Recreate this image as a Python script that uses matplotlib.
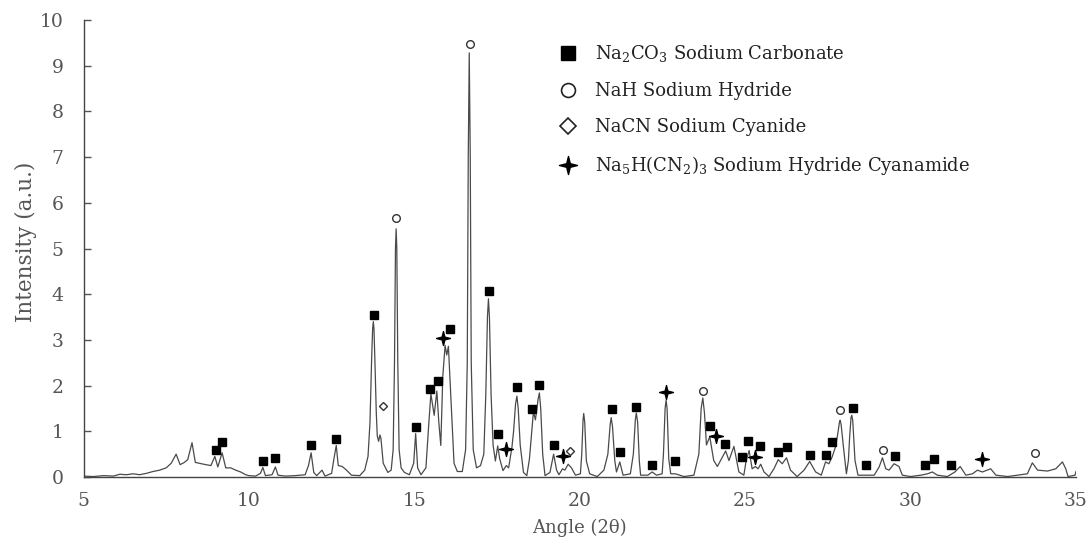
import matplotlib
matplotlib.use("Agg")
import matplotlib.pyplot as plt
from matplotlib.lines import Line2D
from matplotlib.path import Path

# ---- spectrum trace ----
angle = [
    5.0, 5.3, 5.6, 5.9, 6.1, 6.3, 6.5, 6.7, 6.9, 7.1, 7.3, 7.5, 7.65, 7.8, 7.92, 8.05, 8.15, 8.28, 8.38, 8.5,
    8.7, 8.85, 8.97, 9.06, 9.19, 9.3, 9.45, 9.6, 9.75, 9.9, 10.0, 10.2, 10.35, 10.42, 10.5, 10.7, 10.8, 10.88, 11.1, 11.4,
    11.7, 11.8, 11.88, 11.96, 12.05, 12.21, 12.3, 12.5, 12.57, 12.64, 12.7, 12.82, 12.95, 13.1, 13.35, 13.5,
    13.6, 13.66, 13.71, 13.74, 13.76, 13.78, 13.81, 13.85, 13.88, 13.92, 13.96, 13.99, 14.06, 14.2, 14.3, 14.36, 14.4, 14.43, 14.45, 14.47, 14.5, 14.54, 14.6,
    14.7, 14.85, 14.98, 15.04, 15.1, 15.2, 15.35, 15.44, 15.5, 15.6, 15.68, 15.74, 15.8, 15.86, 15.93, 15.98, 16.03, 16.1, 16.2, 16.3,
    16.45, 16.55, 16.6, 16.63, 16.66, 16.69, 16.72, 16.78, 16.88, 17.0, 17.1, 17.16, 17.21, 17.24, 17.27, 17.32, 17.38, 17.45, 17.52, 17.58,
    17.68, 17.78, 17.85, 17.95, 18.0, 18.06, 18.1, 18.14, 18.2, 18.3, 18.4, 18.48, 18.6, 18.66, 18.74, 18.78, 18.82, 18.88, 18.95,
    19.1, 19.21, 19.3, 19.37, 19.48, 19.55, 19.65, 19.75, 19.87, 20.02, 20.06, 20.1, 20.12, 20.15, 20.2, 20.3, 20.53, 20.73,
    20.85, 20.92, 20.95, 20.99, 21.06, 21.11, 21.21, 21.31, 21.53, 21.62, 21.68, 21.71, 21.75, 21.8, 21.84, 22.06, 22.19, 22.32, 22.49,
    22.53, 22.58, 22.61, 22.64, 22.69, 22.75, 22.89, 23.15, 23.45, 23.6, 23.67, 23.72, 23.77, 23.83, 23.93, 24.05, 24.16, 24.41, 24.51, 24.66,
    24.81, 24.96, 25.03, 25.12, 25.21, 25.31, 25.39, 25.47, 25.57, 25.72, 25.87, 26.0, 26.12, 26.25, 26.37, 26.57, 26.78, 26.95, 27.13, 27.3,
    27.43, 27.53, 27.63, 27.73, 27.8, 27.85, 27.87, 27.9, 27.97, 28.06, 28.12, 28.16, 28.2, 28.22, 28.25, 28.32, 28.41, 28.59, 28.9,
    29.05, 29.15, 29.25, 29.35, 29.5, 29.65, 29.75, 30.0, 30.31, 30.51, 30.66, 30.81, 31.11, 31.34, 31.5, 31.67, 31.87, 32.02, 32.17, 32.42,
    32.58, 32.93, 33.23, 33.53, 33.68, 33.84, 34.14, 34.39, 34.59, 34.69, 34.76, 34.97, 35.0,
]
intensity = [
    0.02, 0.01, 0.03, 0.02, 0.06, 0.05, 0.07, 0.05, 0.08, 0.12, 0.15, 0.2, 0.3, 0.5, 0.27, 0.32, 0.38, 0.75, 0.32, 0.3,
    0.27, 0.25, 0.45, 0.22, 0.53, 0.2, 0.2, 0.15, 0.11, 0.05, 0.03, 0.02, 0.08, 0.21, 0.03, 0.05, 0.22, 0.04, 0.02, 0.03,
    0.05, 0.25, 0.53, 0.1, 0.03, 0.15, 0.02, 0.08, 0.4, 0.69, 0.25, 0.23, 0.15, 0.04, 0.03, 0.15,
    0.45, 1.2, 2.6, 3.25, 3.4, 3.25, 2.5, 1.4, 0.9, 0.78, 0.92, 0.85, 0.3, 0.1, 0.15, 0.6, 2.5, 5.0, 5.43, 5.0, 2.5, 0.6, 0.2,
    0.1, 0.05, 0.3, 0.95, 0.2, 0.05, 0.2, 1.2, 1.82, 1.35, 1.88, 1.2, 0.69, 2.2, 2.88, 2.67, 2.86, 1.8, 0.3, 0.12,
    0.12, 0.6, 2.5, 7.0, 9.28, 7.0, 2.5, 0.6, 0.2, 0.25, 0.5, 1.8, 3.5, 3.9, 3.5, 1.8, 0.7, 0.35, 0.68, 0.4,
    0.14, 0.25, 0.2, 0.65, 1.0, 1.6, 1.77, 1.5, 0.7, 0.1, 0.03, 0.4, 1.43, 1.25, 1.7, 1.84, 1.5, 0.5, 0.03,
    0.1, 0.5, 0.15, 0.05, 0.18, 0.15, 0.28, 0.2, 0.04, 0.07, 0.5, 1.25, 1.39, 1.2, 0.35, 0.07, 0.01, 0.15,
    0.5, 1.15, 1.3, 1.1, 0.35, 0.11, 0.33, 0.04, 0.07, 0.5, 1.25, 1.4, 1.2, 0.35, 0.04, 0.04, 0.11, 0.04, 0.07,
    0.5, 1.5, 1.68, 1.5, 0.4, 0.07, 0.07, 0.01, 0.04, 0.5, 1.5, 1.73, 1.4, 0.7, 0.88, 0.36, 0.23, 0.57, 0.36, 0.67,
    0.11, 0.04, 0.36, 0.58, 0.18, 0.23, 0.18, 0.28, 0.11, 0.01, 0.18, 0.38, 0.29, 0.42, 0.15, 0.01, 0.15, 0.34, 0.11, 0.04,
    0.33, 0.29, 0.44, 0.66, 0.95, 1.2, 1.24, 1.15, 0.66, 0.07, 0.36, 0.9, 1.3, 1.35, 1.25, 0.36, 0.04, 0.04, 0.04,
    0.22, 0.42, 0.18, 0.15, 0.29, 0.23, 0.04, 0.01, 0.04, 0.07, 0.11, 0.04, 0.01, 0.11, 0.23, 0.04, 0.07, 0.15, 0.11, 0.18,
    0.04, 0.01, 0.04, 0.07, 0.31, 0.15, 0.13, 0.18, 0.33, 0.18, 0.01, 0.04, 0.12,
]

# ---- phase markers ----
na2co3_x = [8.99, 9.19, 10.42, 10.80, 11.88, 12.64, 13.77, 15.06, 15.48, 15.72, 16.07, 17.25, 17.53,
            18.10, 18.57, 18.78, 19.21, 20.96, 21.21, 21.71, 22.19, 22.88, 23.93, 24.38, 24.89,
            25.10, 25.46, 25.99, 26.25, 26.95, 27.43, 27.61, 28.25, 28.65, 29.54, 30.43, 30.71, 31.22]
na2co3_y = [0.59, 0.76, 0.36, 0.42, 0.69, 0.84, 3.55, 1.09, 1.93, 2.09, 3.23, 4.07, 0.95,
            1.96, 1.48, 2.02, 0.71, 1.49, 0.54, 1.54, 0.26, 0.36, 1.12, 0.72, 0.44,
            0.79, 0.68, 0.55, 0.65, 0.48, 0.48, 0.76, 1.52, 0.26, 0.47, 0.27, 0.40, 0.27]
nah_x = [14.45, 16.68, 23.72, 27.87, 29.18, 33.75]
nah_y = [5.66, 9.47, 1.89, 1.47, 0.58, 0.52]
nacn_x = [14.06, 19.70]
nacn_y = [1.56, 0.57]
cyan_x = [15.87, 17.77, 19.49, 22.61, 24.12, 25.31, 32.15]
cyan_y = [3.04, 0.62, 0.46, 1.87, 0.90, 0.44, 0.39]

labels = [r"Na$_2$CO$_3$ Sodium Carbonate", "NaH Sodium Hydride", "NaCN Sodium Cyanide",
          r"Na$_5$H(CN$_2$)$_3$ Sodium Hydride Cyanamide"]
x_ticks = [5, 10, 15, 20, 25, 30, 35]
y_ticks = [0, 1, 2, 3, 4, 5, 6, 7, 8, 9, 10]

plt.rcParams['font.family'] = ['DejaVu Serif']
plt.rcParams['mathtext.fontset'] = 'dejavuserif'
plt.rcParams['mathtext.default'] = 'regular'

# thin four-pointed star marker
r_in = 0.2
star_verts = [(0, 1), (r_in, r_in), (1, 0), (r_in, -r_in), (0, -1), (-r_in, -r_in), (-1, 0), (-r_in, r_in), (0, 1)]
star = Path(star_verts, [Path.MOVETO] + [Path.LINETO] * 7 + [Path.CLOSEPOLY])

fig = plt.figure(figsize=(10.91, 5.39), dpi=100)
ax = fig.add_axes([83.5 / 1091, (539 - 477) / 539, (1076 - 83.5) / 1091, (477 - 20) / 539])

ax.plot(angle, intensity, color='#4a4a4a', lw=0.9, zorder=2, solid_joinstyle='round')

ax.plot(na2co3_x, na2co3_y, ls='none', marker='s', ms=5.2, color='black', zorder=3)
ax.plot(nah_x, nah_y, ls='none', marker='o', ms=5.5, mfc='white', mec='#333333', mew=1.0, zorder=3)
ax.plot(nacn_x, nacn_y, ls='none', marker='D', ms=4.5, mfc='white', mec='#333333', mew=1.0, zorder=3)
ax.plot(cyan_x, cyan_y, ls='none', marker=star, ms=10, color='black', zorder=3)

ax.set_xlim(5, 35)
ax.set_ylim(0, 10)
ax.set_xticks(x_ticks)
ax.set_yticks(y_ticks)
ax.tick_params(axis='both', labelsize=13.5, labelcolor='#555555')
ax.tick_params(axis='x', length=0, pad=11)
ax.tick_params(axis='y', direction='in', length=5, width=1.0, color='#555555', pad=14.5)
for s in ['top', 'right']:
    ax.spines[s].set_visible(False)
for s in ['left', 'bottom']:
    ax.spines[s].set_color('#444444')
    ax.spines[s].set_linewidth(1.0)

ax.set_xlabel("Angle (2θ)", fontsize=13, color='#555555', labelpad=6)
ax.set_ylabel("Intensity (a.u.)", fontsize=15.5, color='#555555')
ax.yaxis.set_label_coords(-0.047, 0.514)

handles = [
    Line2D([], [], ls='none', marker='s', ms=9.5, color='black'),
    Line2D([], [], ls='none', marker='o', ms=10, mfc='white', mec='#222222', mew=1.2),
    Line2D([], [], ls='none', marker='D', ms=8, mfc='white', mec='#222222', mew=1.2),
    Line2D([], [], ls='none', marker=star, ms=13, color='black'),
]
leg = ax.legend(handles, labels, loc='upper left', bbox_to_anchor=(0.461, 0.985), frameon=False,
                fontsize=13, handlelength=1.2, handletextpad=0.9, labelspacing=1.0)
for t in leg.get_texts():
    t.set_color('#222222')

fig.savefig("out.png", dpi=100)
